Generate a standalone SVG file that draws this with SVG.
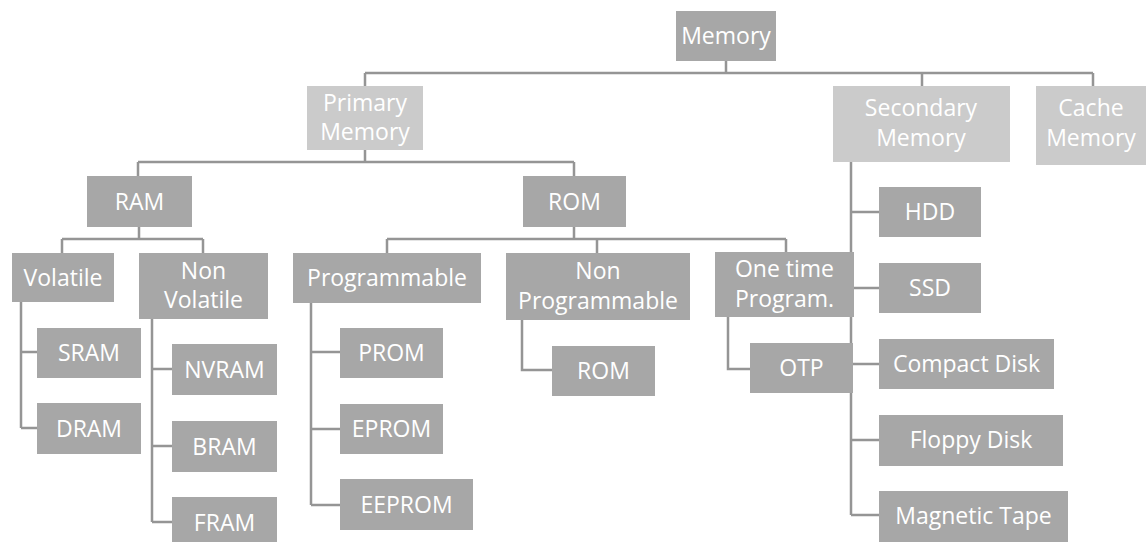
<svg xmlns="http://www.w3.org/2000/svg" width="1146" height="542" viewBox="0 0 1146 542">
<style>
.b{fill:#a7a7a7}
.l{fill:#cbcbcb}
text{font-family:"Open Sans","Liberation Sans",sans-serif;font-size:23px;fill:#ffffff;text-anchor:middle}
#connectors path{fill:none;stroke:#959595;stroke-width:2.5}
</style>
<rect width="1146" height="542" fill="#ffffff"/>
<g id="connectors">
<path d="M726 61V73M365 73H1093M365 73V86M922 73V86M1093 73V86"/>
<path d="M365 150V162M138 162H574M138 162V176M574 162V176"/>
<path d="M139 227V239M62 239H203M62 239V253M203 239V253"/>
<path d="M574 227V239M387 239H786M387 239V253M597 239V253M786 239V253"/>
<path d="M21 302V428M21 352H37M21 428H37"/>
<path d="M152 319V522M152 369H172M152 446H172M152 522H172"/>
<path d="M311 303V505M311 352H340M311 429H340M311 505H340"/>
<path d="M522 320V370H552"/>
<path d="M728 317V369H750"/>
<path d="M851 162V515M851 212H879M851 288H879M851 364H879M851 440H879M851 515H879"/>
</g>
<g id="memory"><rect class="b" x="676" y="11" width="100" height="50"/><text x="726" y="44">Memory</text></g>
<g id="primary"><rect class="l" x="307" y="86" width="116" height="64"/><text x="365" y="111">Primary</text><text x="365" y="140">Memory</text></g>
<g id="secondary"><rect class="l" x="833" y="86" width="177" height="76"/><text x="921" y="116">Secondary</text><text x="921" y="146">Memory</text></g>
<g id="cache"><rect class="l" x="1036" y="86" width="110" height="79"/><text x="1091" y="116">Cache</text><text x="1091" y="146">Memory</text></g>
<g id="ram"><rect class="b" x="87" y="176" width="105" height="51"/><text x="139.5" y="210">RAM</text></g>
<g id="rom"><rect class="b" x="523" y="176" width="103" height="51"/><text x="574.5" y="210">ROM</text></g>
<g id="volatile"><rect class="b" x="12" y="253" width="102" height="49"/><text x="63" y="286">Volatile</text></g>
<g id="nonvolatile"><rect class="b" x="139" y="253" width="129" height="66"/><text x="203.5" y="279">Non</text><text x="203.5" y="308">Volatile</text></g>
<g id="programmable"><rect class="b" x="293" y="253" width="188" height="50"/><text x="387" y="286">Programmable</text></g>
<g id="nonprogrammable"><rect class="b" x="506" y="253" width="184" height="67"/><text x="598" y="279">Non</text><text x="598" y="309">Programmable</text></g>
<g id="onetime"><rect class="b" x="715" y="252" width="139" height="65"/><text x="784.5" y="277">One time</text><text x="784.5" y="307">Program.</text></g>
<g id="sram"><rect class="b" x="37" y="328" width="104" height="50"/><text x="89" y="361">SRAM</text></g>
<g id="dram"><rect class="b" x="37" y="403" width="104" height="51"/><text x="89" y="437">DRAM</text></g>
<g id="nvram"><rect class="b" x="172" y="344" width="105" height="51"/><text x="224.5" y="378">NVRAM</text></g>
<g id="bram"><rect class="b" x="172" y="421" width="105" height="51"/><text x="224.5" y="455">BRAM</text></g>
<g id="fram"><rect class="b" x="172" y="497" width="105" height="45"/><text x="224.5" y="531">FRAM</text></g>
<g id="prom"><rect class="b" x="340" y="328" width="103" height="50"/><text x="391.5" y="361">PROM</text></g>
<g id="eprom"><rect class="b" x="340" y="404" width="103" height="50"/><text x="391.5" y="437">EPROM</text></g>
<g id="eeprom"><rect class="b" x="340" y="479" width="133" height="51"/><text x="406.5" y="513">EEPROM</text></g>
<g id="rom2"><rect class="b" x="552" y="346" width="103" height="50"/><text x="603.5" y="379">ROM</text></g>
<g id="otp"><rect class="b" x="750" y="343" width="103" height="50"/><text x="801.5" y="376">OTP</text></g>
<g id="hdd"><rect class="b" x="879" y="187" width="102" height="50"/><text x="930" y="220">HDD</text></g>
<g id="ssd"><rect class="b" x="879" y="263" width="102" height="50"/><text x="930" y="296">SSD</text></g>
<g id="compact"><rect class="b" x="879" y="339" width="175" height="50"/><text x="966.5" y="372">Compact Disk</text></g>
<g id="floppy"><rect class="b" x="879" y="415" width="184" height="51"/><text x="971" y="448">Floppy Disk</text></g>
<g id="tape"><rect class="b" x="879" y="491" width="189" height="51"/><text x="973.5" y="524">Magnetic Tape</text></g>
</svg>
